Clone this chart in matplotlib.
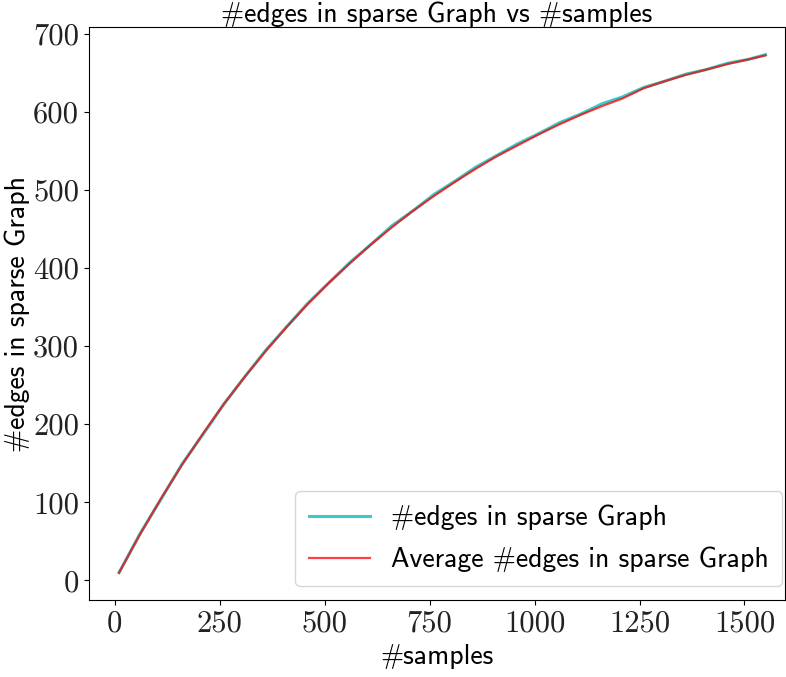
import matplotlib
matplotlib.use("Agg")
import matplotlib.pyplot as plt

# samples on the x axis
samples = [10, 60, 110, 160, 210, 260, 310, 360, 410, 460, 510, 560, 610, 660,
           710, 760, 810, 860, 910, 960, 1010, 1060, 1110, 1160, 1210, 1260,
           1310, 1360, 1410, 1460, 1510, 1550]
# edges per run (noisy)
edges = [10, 60, 104, 149, 187, 226, 261, 295, 325, 355, 381, 407, 430, 454,
         473, 494, 511, 529, 544, 559, 572, 586, 597, 610, 619, 631, 639, 648,
         654, 662, 667, 673]
# averaged edges
avg_edges = [10, 59, 105, 148, 188, 226, 261, 294, 325, 354, 381, 406, 430, 452,
             473, 492, 510, 527, 543, 557, 571, 584, 596, 607, 617, 630, 639, 647,
             654, 661, 667, 672]

xticks = [0, 250, 500, 750, 1000, 1250, 1500]
yticks = [0, 100, 200, 300, 400, 500, 600, 700]

sans = 'cmss10'
serif = 'cmr10'

fig = plt.figure(figsize=(7.86, 6.77), dpi=100)
ax = fig.add_axes([0.113, 0.1137, 0.886, 0.846])

ax.plot(samples, edges, color='#00bfbf', alpha=0.8, lw=2.2, label='#edges in sparse Graph')
ax.plot(samples, avg_edges, color='red', alpha=0.75, lw=1.6, label='Average #edges in sparse Graph')

ax.set_xlim(-62, 1597)
ax.set_ylim(-25, 708)
ax.set_xticks(xticks)
ax.set_yticks(yticks)
ax.set_xticklabels([str(t) for t in xticks], fontfamily=serif, fontsize=22, color='#222222')
ax.set_yticklabels([str(t) for t in yticks], fontfamily=serif, fontsize=22, color='#222222')

ax.set_xlabel('#samples', fontsize=20, fontfamily=sans, labelpad=5)
ax.set_ylabel('#edges in sparse Graph', fontsize=20, fontfamily=sans, labelpad=2)
ax.set_title('#edges in sparse Graph vs #samples', fontsize=20, fontfamily=sans, pad=2)

ax.legend(loc='lower right', bbox_to_anchor=(0.996, 0.024), borderaxespad=0,
          prop={'family': sans, 'size': 20}, handlelength=2.2,
          handletextpad=0.75, labelspacing=0.6, borderpad=0.5)

fig.savefig('out.png', dpi=100)
